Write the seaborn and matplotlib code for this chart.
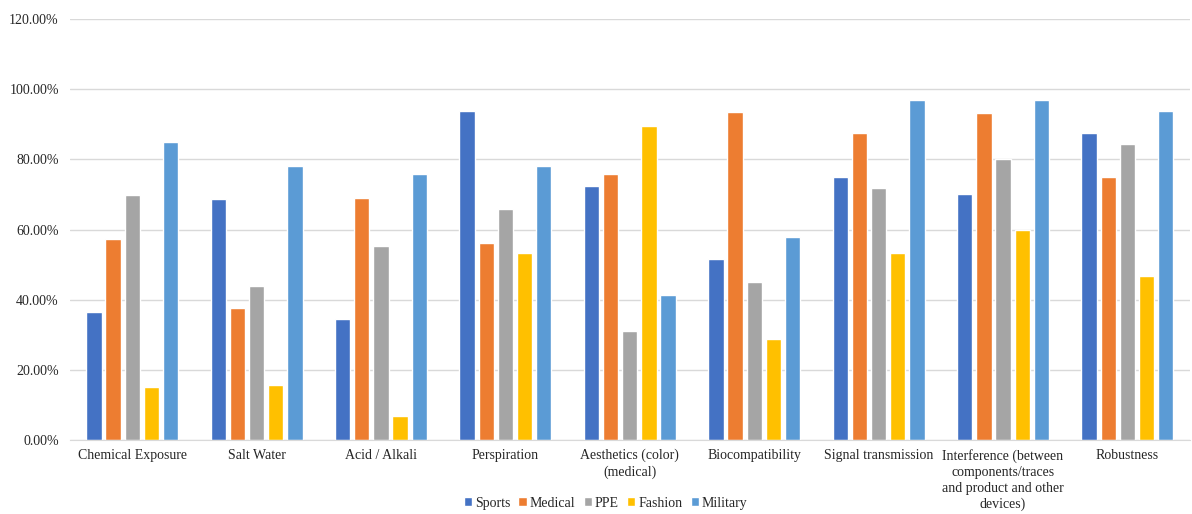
import matplotlib
matplotlib.use("Agg")
import matplotlib.pyplot as plt
from matplotlib.ticker import FuncFormatter
import pandas as pd
import seaborn as sb

categories = [
    "Chemical Exposure",
    "Salt Water",
    "Acid / Alkali",
    "Perspiration",
    "Aesthetics (color)\n(medical)",
    "Biocompatibility",
    "Signal transmission",
    "Interference (between\ncomponents/traces\nand product and other\ndevices)",
    "Robustness",
]
groups = ["Sports", "Medical", "PPE", "Fashion", "Military"]

sports = [36.4, 68.7, 34.5, 93.7, 72.3, 51.6, 74.9, 70.0, 87.5]
medical = [57.4, 37.6, 68.9, 56.2, 75.7, 93.4, 87.5, 93.2, 74.9]
ppe = [69.7, 43.9, 55.3, 65.7, 31.1, 45.1, 71.7, 80.0, 84.3]
fashion = [15.2, 15.7, 7.0, 53.2, 89.5, 29.0, 53.2, 60.0, 46.9]
military = [84.8, 78.1, 75.8, 78.1, 41.3, 58.0, 96.9, 96.7, 93.7]

colors = ["#4472C4", "#ED7D31", "#A5A5A5", "#FFC000", "#5B9BD5"]

# long format table for seaborn
rows = []
for g, vals in zip(groups, [sports, medical, ppe, fashion, military]):
    for c, v in zip(categories, vals):
        rows.append({"category": c, "group": g, "value": v})
df = pd.DataFrame(rows)

sb.set_style("white")
plt.rcParams["font.family"] = ["Liberation Serif", "DejaVu Serif"]
plt.rcParams["font.size"] = 10

fig = plt.figure(figsize=(11.92, 5.14), dpi=100)
ax = fig.add_axes([0.0587, 0.143, 0.9393, 0.821])

sb.barplot(data=df, x="category", y="value", hue="group", order=categories,
           hue_order=groups, palette=colors, width=0.77, gap=0.2,
           saturation=1, errorbar=None, ax=ax)

ax.set_ylim(0, 120)
ax.set_yticks(range(0, 121, 20))
ax.yaxis.set_major_formatter(FuncFormatter(lambda v, p: "{:.2f}%".format(v)))
ax.grid(axis="y", color="#d9d9d9", linewidth=1)
ax.set_axisbelow(True)
for s in ["top", "right", "left"]:
    ax.spines[s].set_visible(False)
ax.spines["bottom"].set_color("#d9d9d9")
ax.tick_params(axis="both", length=0, labelsize=10, colors="#262626")
ax.tick_params(axis="y", pad=8)
ax.tick_params(axis="x", pad=6)
for t in ax.get_xticklabels():
    t.set_linespacing(1.3)
ax.set_xlabel("")
ax.set_ylabel("")

sb.move_legend(ax, "center", bbox_to_anchor=(0.508, 0.021),
               bbox_transform=fig.transFigure, ncol=5, frameon=False,
               title=None, fontsize=10, handlelength=0.6, handleheight=0.6,
               handletextpad=0.2, columnspacing=0.6)

fig.savefig("out.png", dpi=100)
